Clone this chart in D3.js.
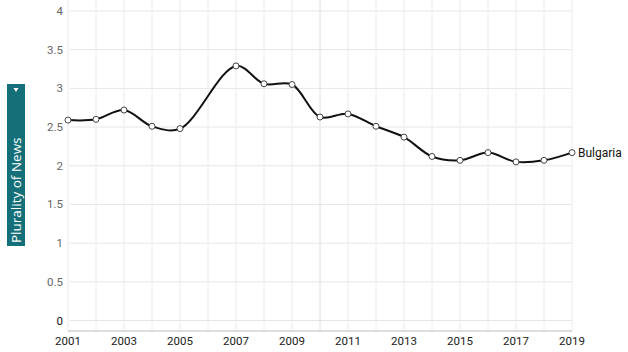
<!DOCTYPE html>
<html>
<head>
<meta charset="utf-8">
<script src="https://cdn.jsdelivr.net/npm/d3@7"></script>
<style>
  body { margin: 0; background: #fff; }
  svg text { font-family: Roboto, sans-serif; }
</style>
</head>
<body>
<svg id="chart" width="628" height="352"></svg>
<script>
// data (2006 has no value)
var years = [2001,2002,2003,2004,2005,2006,2007,2008,2009,2010,2011,2012,2013,2014,2015,2016,2017,2018,2019]
var values = [2.59,2.60,2.72,2.51,2.48,null,3.29,3.06,3.05,2.63,2.67,2.51,2.37,2.12,2.07,2.17,2.05,2.07,2.17]
var yTicks = [0,0.5,1,1.5,2,2.5,3,3.5,4]
var xTicks = [2001,2003,2005,2007,2009,2011,2013,2015,2017,2019]
var seriesName = 'Bulgaria'
var axisTitle = 'Plurality of News'

var svg = d3.select('#chart')

var x = d3.scaleLinear().domain([2001, 2019]).range([68, 572])
var y = d3.scaleLinear().domain([0, 4]).range([320.5, 11])

var data = years.map(function(yr, i) { return {year: yr, value: values[i]} })
  .filter(function(d) { return d.value !== null })

// grid
svg.append('g').selectAll('line.h')
  .data(yTicks).enter().append('line')
  .attr('x1', 70).attr('x2', 572)
  .attr('y1', function(d) { return y(d) }).attr('y2', function(d) { return y(d) })
  .attr('stroke', '#e6e6e6').attr('stroke-width', 1)

svg.append('g').selectAll('line.v')
  .data(years).enter().append('line')
  .attr('x1', function(d) { return x(d) }).attr('x2', function(d) { return x(d) })
  .attr('y1', 0).attr('y2', 331)
  .attr('stroke', function(d) { return d === 2010 ? '#e0e0e0' : '#ececec' })
  .attr('stroke-width', 1)

// bottom axis line
svg.append('line')
  .attr('x1', 68).attr('x2', 572).attr('y1', 331).attr('y2', 331)
  .attr('stroke', '#bbb')

// y labels
svg.append('g').selectAll('text')
  .data(yTicks).enter().append('text')
  .attr('x', 63).attr('y', function(d) { return y(d) })
  .attr('dy', '0.35em').attr('text-anchor', 'end')
  .attr('font-size', 11.5).attr('fill', function(d) { return d === 0 ? '#111' : '#666' })
  .text(function(d) { return d })

// x labels
svg.append('g').selectAll('text')
  .data(xTicks).enter().append('text')
  .attr('x', function(d) { return x(d) }).attr('y', 345)
  .attr('text-anchor', 'middle')
  .attr('font-size', 11.5).attr('fill', '#222')
  .text(function(d) { return d })

// line
var line = d3.line()
  .x(function(d) { return x(d.year) })
  .y(function(d) { return y(d.value) })
  .curve(d3.curveCatmullRom.alpha(0.5))

svg.append('path')
  .datum(data)
  .attr('d', line)
  .attr('fill', 'none').attr('stroke', '#111').attr('stroke-width', 2)

svg.append('g').selectAll('circle')
  .data(data).enter().append('circle')
  .attr('cx', function(d) { return x(d.year) })
  .attr('cy', function(d) { return y(d.value) })
  .attr('r', 3)
  .attr('fill', '#fff').attr('stroke', '#444').attr('stroke-width', 1)

var last = data[data.length - 1]
svg.append('text')
  .attr('x', x(last.year) + 6).attr('y', y(last.value))
  .attr('dy', '0.35em').attr('font-size', 12).attr('fill', '#111')
  .text(seriesName)

// axis title box
var box = svg.append('g')
box.append('rect')
  .attr('x', 7).attr('y', 84).attr('width', 18).attr('height', 162)
  .attr('fill', '#156f78')
box.append('path')
  .attr('d', 'M13.5,88 L18.5,88 L16,92 Z')
  .attr('fill', '#fff')
box.append('text')
  .attr('transform', 'translate(20.5,243) rotate(-90)')
  .attr('font-size', 13.5).attr('fill', '#fff')
  .style('font-family', '"Open Sans", sans-serif')
  .text(axisTitle)
</script>
</body>
</html>
